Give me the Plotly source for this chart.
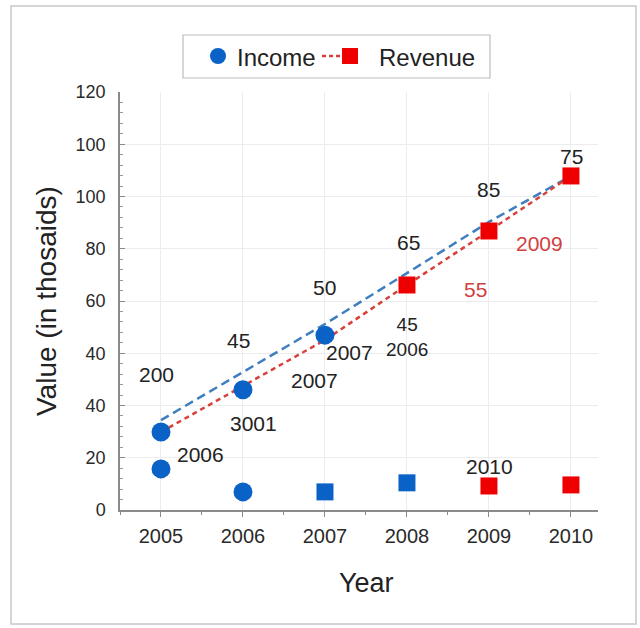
import plotly.graph_objects as go

# Tick text on the value axis (evenly spaced positions)
y_tick_text = ["0", "20", "40", "40", "60", "80", "100", "100", "120"]
y_tick_pos = [0, 15, 30, 45, 60, 75, 90, 105, 120]
years = [2005, 2006, 2007, 2008, 2009, 2010]

# Income points (circles)
income_x = [2005, 2005, 2006, 2006, 2007]
income_y = [22.4, 11.8, 34.5, 5.2, 50.2]

# Extra blue squares
blue_sq_x = [2007, 2008]
blue_sq_y = [5.2, 7.8]

# Revenue dashed line
revenue_x = [2005, 2006, 2007, 2008, 2009, 2010]
revenue_y = [22.4, 35.5, 48.8, 64.6, 80.1, 95.9]

# Revenue squares sitting on the line
revenue_sq_x = [2008, 2009, 2010]
revenue_sq_y = [64.6, 80.1, 95.9]

# Extra red squares near the baseline
red_sq_x = [2009, 2010]
red_sq_y = [6.9, 7.2]

# Blue dashed trend
trend_x = [2005, 2006, 2007, 2008, 2009, 2010]
trend_y = [25.8, 39.6, 53.4, 68.0, 82.7, 95.9]

# Text labels
label_text = ["200", "2006", "45", "3001", "50", "2007", "2007", "65",
              "45<br>2006", "85", "55", "2009", "75", "2010"]
label_x = [2004.95, 2005.48, 2005.94, 2006.13, 2007.0, 2006.87, 2007.30, 2008.02,
           2008.0, 2009.0, 2008.83, 2009.62, 2010.01, 2009.01]
label_y = [39.0, 15.8, 48.8, 24.7, 64.0, 37.3, 45.1, 76.7, 49.8, 91.9,
           63.4, 76.4, 101.6, 12.6]
label_size = [21] * 8 + [19] + [21] * 5
label_red = [False] * 10 + [True, True] + [False, False]

legend_names = ["Income", "Revenue"]

BLUE = "#0b62c6"
RED = "#ee0000"
RED_LINE = "#d8403a"
FONT = "Liberation Sans, Arial, sans-serif"

# Plot area in pixels, used to place the legend box above the axes
L, R, T, B = 120, 598, 92, 510


def px(x):
    return (x - L) / (R - L)


def py(y):
    return (B - y) / (B - T)


fig = go.Figure()

fig.add_trace(go.Scatter(
    x=trend_x, y=trend_y, mode="lines", showlegend=False,
    line=dict(color="#3f7fc0", width=2.5, dash="9px,5px"), hoverinfo="skip"))

fig.add_trace(go.Scatter(
    x=revenue_x, y=revenue_y, mode="lines", showlegend=False,
    line=dict(color=RED_LINE, width=2.5, dash="5px,4px")))

fig.add_trace(go.Scatter(
    x=revenue_sq_x + red_sq_x, y=revenue_sq_y + red_sq_y, mode="markers",
    showlegend=False, name=legend_names[1],
    marker=dict(symbol="square", color=RED, size=17)))

fig.add_trace(go.Scatter(
    x=income_x, y=income_y, mode="markers", showlegend=False,
    name=legend_names[0],
    marker=dict(symbol="circle", color=BLUE, size=19)))

fig.add_trace(go.Scatter(
    x=blue_sq_x, y=blue_sq_y, mode="markers", showlegend=False,
    marker=dict(symbol="square", color=BLUE, size=17)))

for t, x, y, s, red in zip(label_text, label_x, label_y, label_size, label_red):
    fig.add_annotation(x=x, y=y, text=t, showarrow=False,
                       font=dict(size=s, color="#d04040" if red else "#222222",
                                 family=FONT))

# Legend box drawn above the plot
fig.add_shape(type="rect", xref="paper", yref="paper",
              x0=px(183), x1=px(490), y0=py(78), y1=py(35),
              line=dict(color="#bdbdbd", width=1.2), fillcolor="white")
fig.add_shape(type="circle", xref="paper", yref="paper",
              x0=px(210), x1=px(226), y0=py(64), y1=py(48),
              line=dict(width=0), fillcolor=BLUE)
fig.add_annotation(xref="paper", yref="paper", x=px(235), y=py(57),
                   xanchor="left", yanchor="middle", text=legend_names[0],
                   showarrow=False, font=dict(size=24, color="#222222", family=FONT))
fig.add_shape(type="line", xref="paper", yref="paper",
              x0=px(322), x1=px(344), y0=py(56), y1=py(56),
              line=dict(color=RED_LINE, width=2.5, dash="4px,3px"))
fig.add_shape(type="rect", xref="paper", yref="paper",
              x0=px(342), x1=px(358), y0=py(64), y1=py(48),
              line=dict(width=0), fillcolor=RED)
fig.add_annotation(xref="paper", yref="paper", x=px(377), y=py(57),
                   xanchor="left", yanchor="middle", text=legend_names[1],
                   showarrow=False, font=dict(size=24, color="#222222", family=FONT))

# Axis titles
fig.add_annotation(xref="paper", yref="paper", x=px(46), y=py(301),
                   xanchor="center", yanchor="middle",
                   text="Value (in thosaids)", textangle=-90, showarrow=False,
                   font=dict(size=28, color="#222222", family=FONT))
fig.add_annotation(xref="paper", yref="paper", x=px(366), y=py(583),
                   xanchor="center", yanchor="middle",
                   text="Year", showarrow=False,
                   font=dict(size=27, color="#222222", family=FONT))

# Outer frame
fig.add_shape(type="rect", xref="paper", yref="paper",
              x0=px(11), x1=px(636), y0=py(624), y1=py(6),
              line=dict(color="#c8c8c8", width=1.5))

fig.update_layout(
    width=640, height=628,
    margin=dict(l=L, r=640 - R, t=T, b=628 - B),
    paper_bgcolor="white", plot_bgcolor="white",
    font=dict(family=FONT, color="#222222", size=19),
    showlegend=False,
    xaxis=dict(range=[2004.5, 2010.33], tickvals=years,
               ticktext=[str(y) for y in years],
               showgrid=True, gridcolor="#ececec", gridwidth=1,
               showline=True, linecolor="#8a8a8a", linewidth=1.5,
               ticks="outside", ticklen=5, tickcolor="#8a8a8a",
               minor=dict(dtick=0.5, tick0=2004.5, ticks="outside", ticklen=3,
                          tickcolor="#8a8a8a", showgrid=False),
               zeroline=False, tickfont=dict(size=20, color="#2a2a2a"),
               ticklabelstandoff=2),
    yaxis=dict(range=[0, 120], tickvals=y_tick_pos, ticktext=y_tick_text,
               showgrid=True, gridcolor="#ececec", gridwidth=1,
               showline=True, linecolor="#8a8a8a", linewidth=1.5,
               ticks="inside", ticklen=5, tickcolor="#8a8a8a",
               minor=dict(dtick=3, tick0=0, ticks="inside", ticklen=3,
                          tickcolor="#9a9a9a", showgrid=False),
               zeroline=False, tickfont=dict(size=18, color="#2a2a2a"),
               ticklabelstandoff=9),
)

fig.write_html("out.html")
